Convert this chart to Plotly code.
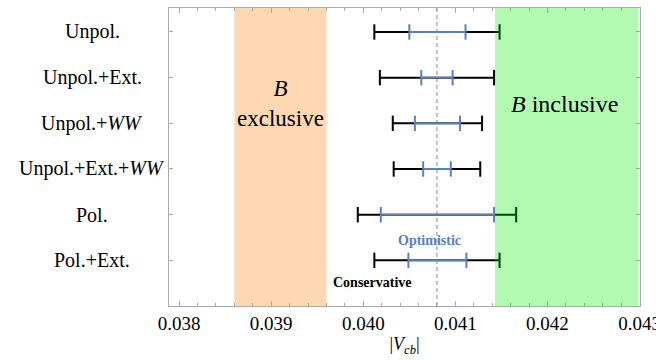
import plotly.graph_objects as go

labels = ["Unpol.", "Unpol.+Ext.", "Unpol.+<i>WW</i>", "Unpol.+Ext.+<i>WW</i>", "Pol.", "Pol.+Ext."]
rows = [6, 5, 4, 3, 2, 1]
cons_lo = [0.04012, 0.04018, 0.04032, 0.04033, 0.03994, 0.04012]
cons_hi = [0.04148, 0.04142, 0.04129, 0.04127, 0.04166, 0.04148]
opt_lo = [0.04050, 0.04063, 0.04056, 0.04065, 0.04019, 0.04049]
opt_hi = [0.04111, 0.04097, 0.04105, 0.04095, 0.04142, 0.04112]
excl_band = [0.0386, 0.0396]
incl_band = [0.04143, 0.04299]
ref_line = 0.04080
x_range = [0.03789, 0.043005]
y_range = [0, 6.525]

SERIF = "'Liberation Serif', 'Times New Roman', 'DejaVu Serif', serif"
BLUE = "#5a7fba"

def seg(lo, hi, ys):
    xs, yy = [], []
    for a, b, y in zip(lo, hi, ys):
        xs += [a, b, None]
        yy += [y, y, None]
    return xs, yy

fig = go.Figure()
cx, cy = seg(cons_lo, cons_hi, rows)
fig.add_trace(go.Scatter(x=cx, y=cy, mode="lines+markers",
                         line=dict(color="black", width=2),
                         marker=dict(symbol="line-ns", size=11, line=dict(width=2, color="black")),
                         showlegend=False, hoverinfo="skip"))
ox, oy = seg(opt_lo, opt_hi, rows)
fig.add_trace(go.Scatter(x=ox, y=oy, mode="lines+markers",
                         line=dict(color=BLUE, width=2),
                         marker=dict(symbol="line-ns", size=11, line=dict(width=2, color=BLUE)),
                         showlegend=False, hoverinfo="skip"))

fig.add_shape(type="rect", xref="x", yref="paper", x0=excl_band[0], x1=excl_band[1], y0=0, y1=1,
              fillcolor="#fdd8b2", line_width=0, layer="below")
fig.add_shape(type="line", xref="x", yref="paper", x0=ref_line, x1=ref_line, y0=0, y1=1,
              line=dict(color="#888888", width=1, dash="4px,3px"), layer="below")
fig.add_shape(type="rect", xref="x", yref="paper", x0=incl_band[0], x1=incl_band[1], y0=0, y1=1,
              fillcolor="rgba(0,240,0,0.3)", line_width=0, layer="above")

for lab, r in zip(labels, rows):
    fig.add_annotation(x=-0.163, xref="paper", y=r, yref="y", text=lab, showarrow=False,
                       xanchor="center", yanchor="middle", font=dict(family=SERIF, size=20, color="black"))

fig.add_annotation(x=sum(excl_band) / 2, y=0.678, xref="x", yref="paper",
                   text="<i>B</i><br>exclusive", showarrow=False,
                   xanchor="center", yanchor="middle",
                   font=dict(family=SERIF, size=23, color="black"))
fig.add_annotation(x=0.04218, y=0.678, xref="x", yref="paper",
                   text="<i>B</i> inclusive", showarrow=False,
                   xanchor="center", yanchor="middle",
                   font=dict(family=SERIF, size=24, color="black"))
fig.add_annotation(x=0.040717, y=1.44, xref="x", yref="y", text="<b>Optimistic</b>", showarrow=False,
                   xanchor="center", yanchor="middle",
                   font=dict(family=SERIF, size=14, color=BLUE))
fig.add_annotation(x=0.040098, y=0.524, xref="x", yref="y", text="<b>Conservative</b>", showarrow=False,
                   xanchor="center", yanchor="middle",
                   font=dict(family=SERIF, size=14, color="black"))

fig.update_layout(
    width=656, height=360,
    margin=dict(l=169, r=16, t=8, b=54),
    plot_bgcolor="white", paper_bgcolor="white",
    font=dict(family=SERIF, color="black"),
    xaxis=dict(range=x_range, showgrid=False, zeroline=False, automargin=False,
               showline=True, linecolor="#aaaaaa", linewidth=1, mirror="ticks",
               ticks="inside", ticklen=5, tickcolor="#aaaaaa", tick0=0.038, dtick=0.001,
               tickformat=".3f", tickfont=dict(family=SERIF, size=19, color="black"),
               ticklabeloverflow="allow",
               minor=dict(dtick=0.0002, tick0=0.038, ticks="inside", ticklen=3, tickcolor="#aaaaaa"),
               title=dict(text="|<i>V</i><sub><i>cb</i></sub>|", font=dict(family=SERIF, size=18, color="black"),
                          standoff=4)),
    yaxis=dict(range=y_range, showgrid=False, zeroline=False, automargin=False,
               showline=True, linecolor="#aaaaaa", linewidth=1, mirror="ticks",
               ticks="inside", ticklen=4, tickcolor="#aaaaaa", tickvals=rows, showticklabels=False),
)

fig.write_html("out.html")
